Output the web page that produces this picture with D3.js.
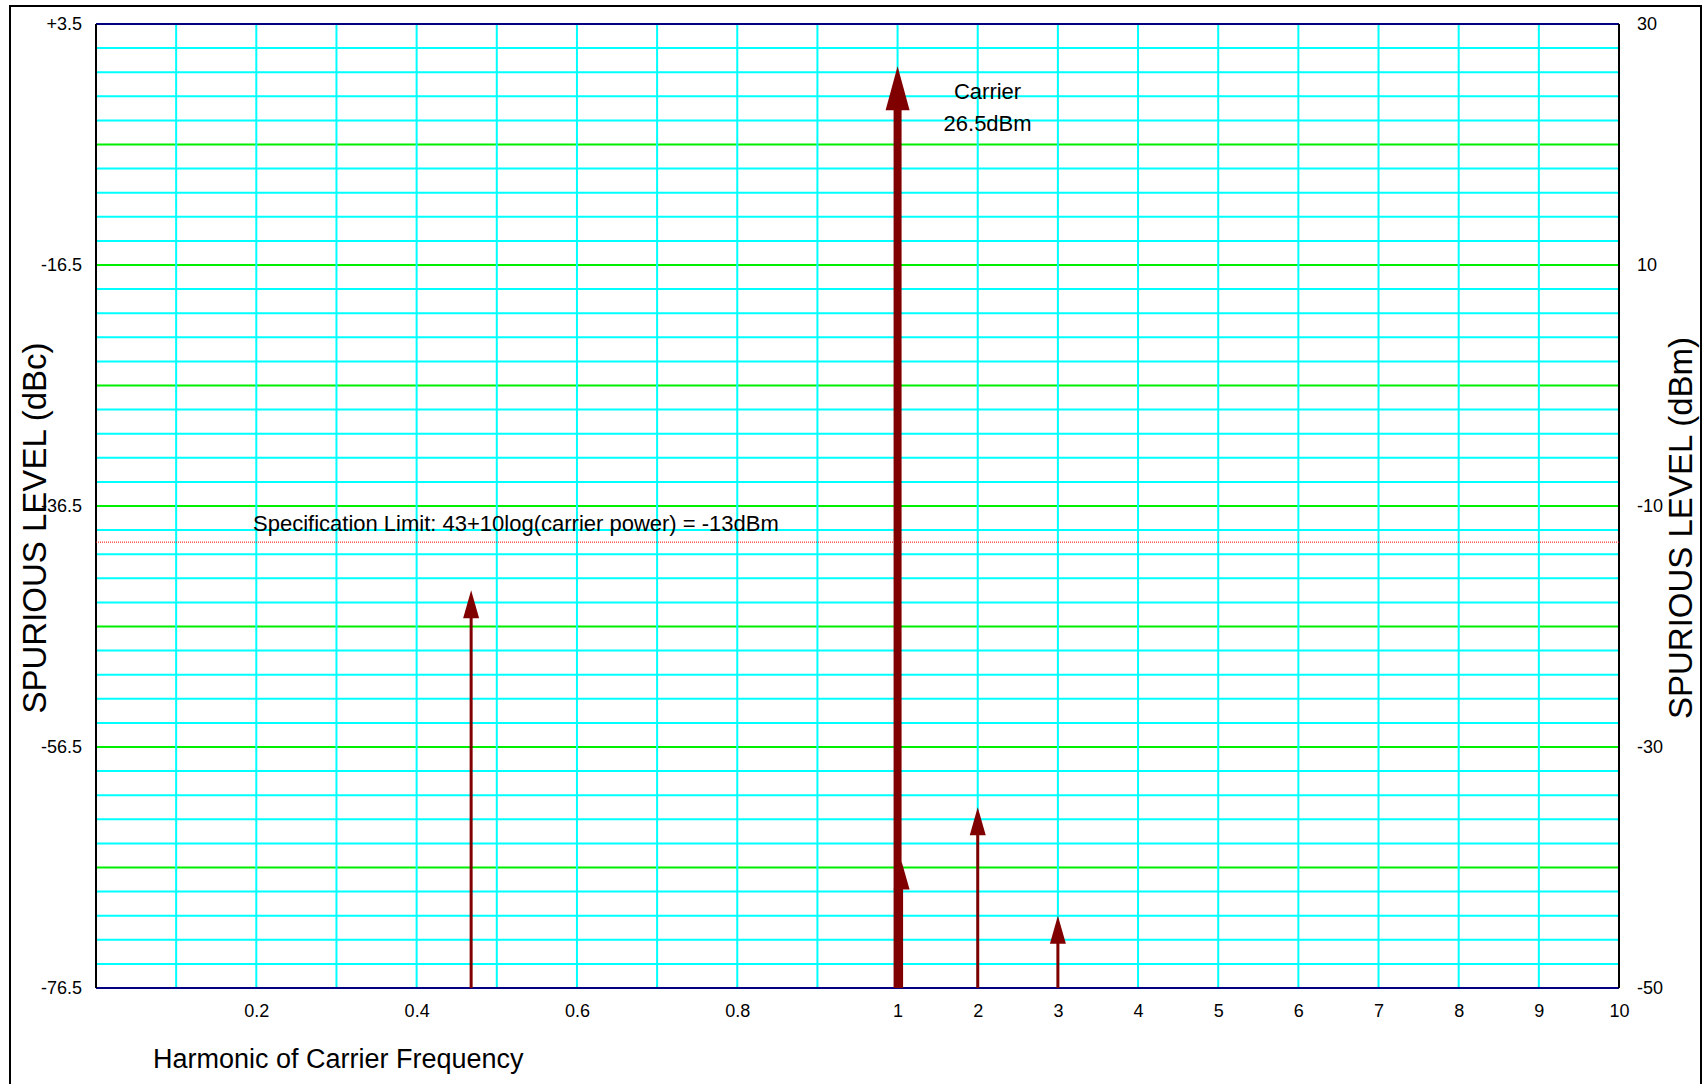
<!DOCTYPE html>
<html>
<head>
<meta charset="utf-8">
<script src="https://cdn.jsdelivr.net/npm/d3@7"></script>
<style>
  body { margin: 0; background: #fff; }
  svg text { font-family: "Liberation Sans", Arial, sans-serif; fill: #000; }
</style>
</head>
<body>
<svg id="chart" width="1703" height="1084"></svg>
<script>
// spur data: harmonic of carrier, level in dBc
var harmonics = [1, 0.468, 1.05, 2, 3];
var levels = [0, -43.5, -66, -61.5, -70.5];
var carrierDbm = 26.5;
var specLimitDbm = -13;

var xTicks = [0.2, 0.4, 0.6, 0.8, 1, 2, 3, 4, 5, 6, 7, 8, 9, 10];
var xGrid = [0.1, 0.2, 0.3, 0.4, 0.5, 0.6, 0.7, 0.8, 0.9, 1, 2, 3, 4, 5, 6, 7, 8, 9];
var leftTicks = [3.5, -16.5, -36.5, -56.5, -76.5];
var leftTickLabels = ["+3.5", "-16.5", "-36.5", "-56.5", "-76.5"];
var rightTicks = [30, 10, -10, -30, -50];

var svg = d3.select("#chart");
var margin = {top: 24, right: 84, bottom: 96, left: 96};
var width = 1703 - margin.left - margin.right;
var height = 1084 - margin.top - margin.bottom;
var darkRed = "#800000";

// outer frame
svg.append("rect")
    .attr("x", 10).attr("y", 6)
    .attr("width", 1691).attr("height", 1100)
    .attr("fill", "none")
    .attr("stroke", "#000")
    .attr("stroke-width", 2);

// ======================================================
// SET SCALES
// first decade 0..1 and second decade 1..10 get the same width
var step = width / 19;
var xScale = d3.scaleLinear()
    .domain([0, 1, 10])
    .range([0, step * 10, width]);
var yScale = d3.scaleLinear()
    .domain([-76.5, 3.5])
    .range([height, 0]);
var yRight = d3.scaleLinear()
    .domain([-76.5 + carrierDbm, 3.5 + carrierDbm])
    .range([height, 0]);

var g = svg.append("g")
    .attr("transform", "translate(" + margin.left + "," + margin.top + ")");

// horizontal grid, every 2 dB, green every 10 dB
var hLines = d3.range(1.5, -76.5, -2);
g.selectAll("line.hgrid")
    .data(hLines)
    .enter()
    .append("line")
    .attr("class", "hgrid")
    .attr("x1", 0).attr("x2", width)
    .attr("y1", function(d) { return yScale(d); })
    .attr("y2", function(d) { return yScale(d); })
    .attr("stroke", function(d) { return Math.abs((d + 6.5) % 10) < 0.01 ? "#00ee00" : "#00ffff"; })
    .attr("stroke-width", 2);

// vertical grid
g.selectAll("line.vgrid")
    .data(xGrid)
    .enter()
    .append("line")
    .attr("class", "vgrid")
    .attr("y1", 0).attr("y2", height)
    .attr("x1", function(d) { return xScale(d); })
    .attr("x2", function(d) { return xScale(d); })
    .attr("stroke", "#00ffff")
    .attr("stroke-width", 2);

// frame of plot area
g.append("line").attr("x1", 0).attr("x2", width).attr("y1", 0).attr("y2", 0)
    .attr("stroke", "#000080").attr("stroke-width", 2);
g.append("line").attr("x1", 0).attr("x2", width).attr("y1", height).attr("y2", height)
    .attr("stroke", "#000080").attr("stroke-width", 2);
g.append("line").attr("x1", 0).attr("x2", 0).attr("y1", 0).attr("y2", height)
    .attr("stroke", "#000").attr("stroke-width", 2);
g.append("line").attr("x1", width).attr("x2", width).attr("y1", 0).attr("y2", height)
    .attr("stroke", "#000").attr("stroke-width", 2);

// spec limit
var specDbc = specLimitDbm - carrierDbm;
g.append("line")
    .attr("x1", 0).attr("x2", width)
    .attr("y1", yScale(specDbc)).attr("y2", yScale(specDbc))
    .attr("stroke", "#ff0000")
    .attr("stroke-width", 1)
    .attr("stroke-dasharray", "1,1");
g.append("text")
    .attr("x", 157)
    .attr("y", yScale(specDbc) - 19)
    .attr("dy", "0.35em")
    .style("font-size", "22px")
    .text("Specification Limit: 43+10log(carrier power) = -13dBm");

// ======================================================
// AXES
g.append("g")
    .attr("transform", "translate(0," + height + ")")
    .call(d3.axisBottom(xScale).tickValues(xTicks).tickSize(0).tickPadding(16)
        .tickFormat(function(d) { return String(d); }))
    .call(function(a) { a.select(".domain").remove(); })
    .selectAll("text")
    .style("font-size", "18px");

g.append("g")
    .call(d3.axisLeft(yScale).tickValues(leftTicks).tickSize(0).tickPadding(14)
        .tickFormat(function(d, i) { return leftTickLabels[i]; }))
    .call(function(a) { a.select(".domain").remove(); })
    .selectAll("text")
    .style("font-size", "18px");

g.append("g")
    .attr("transform", "translate(" + width + ",0)")
    .call(d3.axisRight(yRight).tickValues(rightTicks).tickSize(0).tickPadding(18)
        .tickFormat(function(d) { return String(d); }))
    .call(function(a) { a.select(".domain").remove(); })
    .selectAll("text")
    .style("font-size", "18px");

// axis titles
svg.append("text")
    .attr("transform", "translate(34," + (margin.top + height / 2 + 22) + ") rotate(-90)")
    .attr("text-anchor", "middle")
    .attr("dy", "0.35em")
    .style("font-size", "33px")
    .text("SPURIOUS LEVEL (dBc)");
svg.append("text")
    .attr("transform", "translate(1680," + (margin.top + height / 2 + 22) + ") rotate(-90)")
    .attr("text-anchor", "middle")
    .attr("dy", "0.35em")
    .style("font-size", "33px")
    .text("SPURIOUS LEVEL (dBm)");
svg.append("text")
    .attr("x", 153)
    .attr("y", 1059)
    .attr("dy", "0.35em")
    .style("font-size", "27px")
    .text("Harmonic of Carrier Frequency");

// ======================================================
// SPUR ARROWS
var spurs = harmonics.map(function(h, i) { return {h: h, db: levels[i], carrier: i === 0}; });
var arrows = g.selectAll("g.spur")
    .data(spurs)
    .enter()
    .append("g")
    .attr("class", "spur");

arrows.append("line")
    .attr("x1", function(d) { return xScale(d.h); })
    .attr("x2", function(d) { return xScale(d.h); })
    .attr("y1", height)
    .attr("y2", function(d) { return yScale(d.db) + (d.carrier ? 40 : 24); })
    .attr("stroke", darkRed)
    .attr("stroke-width", function(d) { return d.carrier ? 8 : 3; });

arrows.append("path")
    .attr("fill", darkRed)
    .attr("d", function(d) {
        var x = xScale(d.h), y = yScale(d.db);
        var hw = d.carrier ? 12 : 8, hl = d.carrier ? 44 : 28;
        return "M" + x + "," + y + "L" + (x + hw) + "," + (y + hl) + "L" + (x - hw) + "," + (y + hl) + "Z";
    });

// carrier label
g.append("text")
    .attr("x", xScale(1) + 90)
    .attr("y", yScale(0) + 33)
    .attr("text-anchor", "middle")
    .style("font-size", "22px")
    .text("Carrier");
g.append("text")
    .attr("x", xScale(1) + 90)
    .attr("y", yScale(0) + 65)
    .attr("text-anchor", "middle")
    .style("font-size", "22px")
    .text(carrierDbm + "dBm");
</script>
</body>
</html>
